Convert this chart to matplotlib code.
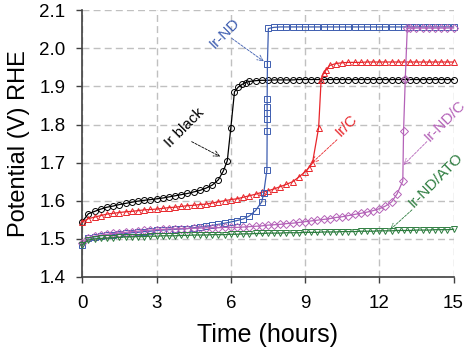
import matplotlib
matplotlib.use('Agg')
import matplotlib.pyplot as plt

plt.rcParams['font.family'] = ['Liberation Sans', 'DejaVu Sans']

# (time in hours, potential in V vs RHE)
ir_black = [(0, 1.545), (0.25, 1.566), (0.5, 1.572), (0.75, 1.578), (1.0, 1.583),
            (1.25, 1.586), (1.5, 1.590), (1.75, 1.593), (2.0, 1.596), (2.25, 1.599),
            (2.5, 1.601), (2.75, 1.603), (3.0, 1.605), (3.25, 1.607), (3.5, 1.610),
            (3.75, 1.613), (4.0, 1.616), (4.25, 1.619), (4.5, 1.623), (4.75, 1.627),
            (5.0, 1.633), (5.25, 1.641), (5.5, 1.655), (5.7, 1.678), (5.86, 1.705),
            (6.0, 1.790), (6.15, 1.886), (6.3, 1.898), (6.45, 1.905), (6.6, 1.910),
            (6.75, 1.913), (7.0, 1.915), (7.25, 1.916), (7.5, 1.916), (7.75, 1.917),
            (8.0, 1.917), (8.25, 1.917), (8.5, 1.917), (8.75, 1.918), (9.0, 1.918),
            (9.25, 1.918), (9.5, 1.918), (9.75, 1.918), (10.0, 1.918), (10.25, 1.918),
            (10.5, 1.918), (10.75, 1.918), (11.0, 1.918), (11.25, 1.918), (11.5, 1.918),
            (11.75, 1.918), (12.0, 1.918), (12.25, 1.918), (12.5, 1.918), (12.75, 1.918),
            (13.0, 1.918), (13.25, 1.918), (13.5, 1.918), (13.75, 1.918), (14.0, 1.918),
            (14.25, 1.918), (14.5, 1.918), (14.75, 1.918), (15.0, 1.918)]

ir_c = [(0, 1.545), (0.25, 1.553), (0.5, 1.557), (0.75, 1.561), (1.0, 1.565),
        (1.25, 1.567), (1.5, 1.569), (1.75, 1.571), (2.0, 1.572), (2.25, 1.574),
        (2.5, 1.576), (2.75, 1.577), (3.0, 1.578), (3.25, 1.580), (3.5, 1.582),
        (3.75, 1.583), (4.0, 1.585), (4.25, 1.587), (4.5, 1.588), (4.75, 1.590),
        (5.0, 1.591), (5.25, 1.594), (5.5, 1.597), (5.75, 1.600), (6.0, 1.603),
        (6.25, 1.605), (6.5, 1.609), (6.75, 1.613), (7.0, 1.617), (7.25, 1.622),
        (7.5, 1.626), (7.75, 1.631), (8.0, 1.637), (8.25, 1.643), (8.5, 1.650),
        (8.75, 1.662), (9.0, 1.676), (9.15, 1.686), (9.3, 1.699), (9.55, 1.792),
        (9.65, 1.917), (9.75, 1.935), (9.85, 1.943), (10.0, 1.955), (10.25, 1.960),
        (10.5, 1.962), (10.75, 1.963), (11.0, 1.963), (11.25, 1.963), (11.5, 1.964),
        (11.75, 1.964), (12.0, 1.964), (12.25, 1.964), (12.5, 1.964), (12.75, 1.964),
        (13.0, 1.964), (13.25, 1.964), (13.5, 1.964), (13.75, 1.964), (14.0, 1.964),
        (14.25, 1.964), (14.5, 1.964), (14.75, 1.964), (15.0, 1.964)]

ir_nd = [(0, 1.484), (0.25, 1.502), (0.5, 1.505), (0.75, 1.508), (1.0, 1.510),
         (1.25, 1.511), (1.5, 1.513), (1.75, 1.514), (2.0, 1.516), (2.25, 1.517),
         (2.5, 1.519), (2.75, 1.520), (3.0, 1.522), (3.25, 1.523), (3.5, 1.524),
         (3.75, 1.525), (4.0, 1.526), (4.25, 1.527), (4.5, 1.529), (4.75, 1.531),
         (5.0, 1.533), (5.25, 1.535), (5.5, 1.538), (5.75, 1.541), (6.0, 1.544),
         (6.25, 1.548), (6.5, 1.552), (6.75, 1.560), (7.0, 1.574), (7.25, 1.597),
         (7.33, 1.620), (7.46, 1.681), (7.47, 1.782), (7.47, 1.815), (7.47, 1.831),
         (7.47, 1.847), (7.47, 1.866), (7.48, 1.960), (7.52, 2.052), (7.75, 2.055),
         (8.0, 2.056), (8.25, 2.056), (8.5, 2.056), (8.75, 2.056), (9.0, 2.056),
         (9.25, 2.056), (9.5, 2.056), (9.75, 2.056), (10.0, 2.056), (10.25, 2.056),
         (10.5, 2.056), (10.75, 2.056), (11.0, 2.056), (11.25, 2.056), (11.5, 2.056),
         (11.75, 2.056), (12.0, 2.056), (12.25, 2.056), (12.5, 2.056), (12.75, 2.056),
         (13.0, 2.056), (13.25, 2.056), (13.5, 2.056), (13.75, 2.056), (14.0, 2.056),
         (14.25, 2.056), (14.5, 2.056), (14.75, 2.056), (15.0, 2.056)]

ir_nd_c = [(0, 1.488), (0.25, 1.503), (0.5, 1.507), (0.75, 1.510), (1.0, 1.512),
           (1.25, 1.514), (1.5, 1.516), (1.75, 1.517), (2.0, 1.519), (2.25, 1.520),
           (2.5, 1.522), (2.75, 1.523), (3.0, 1.524), (3.25, 1.525), (3.5, 1.526),
           (3.75, 1.526), (4.0, 1.527), (4.25, 1.527), (4.5, 1.528), (4.75, 1.528),
           (5.0, 1.529), (5.25, 1.529), (5.5, 1.529), (5.75, 1.530), (6.0, 1.530),
           (6.25, 1.530), (6.5, 1.531), (6.75, 1.532), (7.0, 1.533), (7.25, 1.534),
           (7.5, 1.536), (7.75, 1.537), (8.0, 1.538), (8.25, 1.540), (8.5, 1.541),
           (8.75, 1.543), (9.0, 1.545), (9.25, 1.547), (9.5, 1.549), (9.75, 1.551),
           (10.0, 1.553), (10.25, 1.556), (10.5, 1.558), (10.75, 1.561), (11.0, 1.564),
           (11.25, 1.567), (11.5, 1.570), (11.75, 1.574), (12.0, 1.579), (12.25, 1.586),
           (12.5, 1.597), (12.72, 1.618), (12.95, 1.652), (12.98, 1.782), (13.05, 1.920),
           (13.13, 2.052), (13.25, 2.053), (13.5, 2.053), (13.75, 2.053), (14.0, 2.053),
           (14.25, 2.053), (14.5, 2.053), (14.75, 2.053), (15.0, 2.053)]

ir_nd_ato = [(0, 1.484), (0.25, 1.497), (0.5, 1.500), (0.75, 1.501), (1.0, 1.502),
             (1.25, 1.503), (1.5, 1.504), (1.75, 1.505), (2.0, 1.505), (2.25, 1.506),
             (2.5, 1.506), (2.75, 1.507), (3.0, 1.507), (3.25, 1.508), (3.5, 1.508),
             (3.75, 1.508), (4.0, 1.509), (4.25, 1.509), (4.5, 1.510), (4.75, 1.510),
             (5.0, 1.510), (5.25, 1.511), (5.5, 1.511), (5.75, 1.511), (6.0, 1.512),
             (6.25, 1.512), (6.5, 1.513), (6.75, 1.513), (7.0, 1.514), (7.25, 1.514),
             (7.5, 1.515), (7.75, 1.515), (8.0, 1.515), (8.25, 1.516), (8.5, 1.516),
             (8.75, 1.516), (9.0, 1.517), (9.25, 1.517), (9.5, 1.517), (9.75, 1.518),
             (10.0, 1.518), (10.25, 1.518), (10.5, 1.519), (10.75, 1.519), (11.0, 1.519),
             (11.25, 1.520), (11.5, 1.520), (11.75, 1.520), (12.0, 1.521), (12.25, 1.521),
             (12.5, 1.521), (12.75, 1.522), (13.0, 1.522), (13.25, 1.522), (13.5, 1.523),
             (13.75, 1.523), (14.0, 1.523), (14.25, 1.524), (14.5, 1.524), (14.75, 1.524),
             (15.0, 1.525)]

x_ticks = [0, 3, 6, 9, 12, 15]
y_ticks = [1.4, 1.5, 1.6, 1.7, 1.8, 1.9, 2.0, 2.1]

# series: data, marker, colour
series = [
    (ir_black, 'o', 'black'),
    (ir_c, '^', '#e8262b'),
    (ir_nd, 's', '#3d5db0'),
    (ir_nd_c, 'D', '#b462b8'),
    (ir_nd_ato, 'v', '#2e7d40'),
]

# label text, arrow tip, arrow tail, text centre, colour
labels = [
    ('Ir black', (5.57, 1.716), (4.42, 1.755), (4.15, 1.791), 'black'),
    ('Ir-ND', (7.33, 1.966), (6.04, 2.026), (5.77, 2.040), '#3d5db0'),
    ('Ir/C', (9.28, 1.699), (10.29, 1.760), (10.68, 1.797), '#e8262b'),
    ('Ir-ND/C', (12.98, 1.694), (13.92, 1.755), (14.67, 1.810), '#b462b8'),
    ('Ir-ND/ATO', (12.44, 1.524), (13.32, 1.576), (14.30, 1.655), '#2e7d40'),
]

fig = plt.figure(figsize=(4.70, 3.51), dpi=100)
ax = fig.add_axes([0.175, 0.211, 0.790, 0.760])

for data, mk, col in series:
    t, v = zip(*data)
    ax.plot(t, v, color=col, lw=0.9, marker=mk, markersize=4.3 if mk != 'D' else 3.6,
            markerfacecolor='none', markeredgecolor=col, markeredgewidth=0.7,
            clip_on=False, zorder=3)

for text, tip, tail, pos, col in labels:
    ax.annotate('', xy=tip, xytext=tail, zorder=4,
                arrowprops=dict(arrowstyle='->', color=col, lw=0.6, linestyle=(0, (3, 1.5)),
                                shrinkA=0, shrinkB=0))
    ax.text(pos[0], pos[1], text, color=col, fontsize=11, rotation=45,
            ha='center', va='center', rotation_mode='anchor', zorder=5, clip_on=False)

ax.set_xlim(0, 15)
ax.set_ylim(1.4, 2.1)
ax.set_xticks(x_ticks)
ax.set_yticks(y_ticks)
ax.set_yticklabels([f'{y:.1f}' for y in y_ticks])
ax.tick_params(labelsize=13.5, length=4, width=1, color='#404040')
ax.tick_params(axis='x', pad=9)
ax.tick_params(axis='y', pad=8)
ax.grid(True, color='#c0c0c0', linestyle=(0, (5, 3)), lw=1.0)
ax.set_axisbelow(True)
for side in ['top', 'right']:
    ax.spines[side].set_visible(False)
for side in ['left', 'bottom']:
    ax.spines[side].set_color('#404040')
    ax.spines[side].set_linewidth(1.2)

ax.set_xlabel('Time (hours)', fontsize=18, labelpad=8)
ax.set_ylabel('Potential (V) RHE', fontsize=17, labelpad=7)

fig.savefig('out.png', dpi=100, facecolor='white')
